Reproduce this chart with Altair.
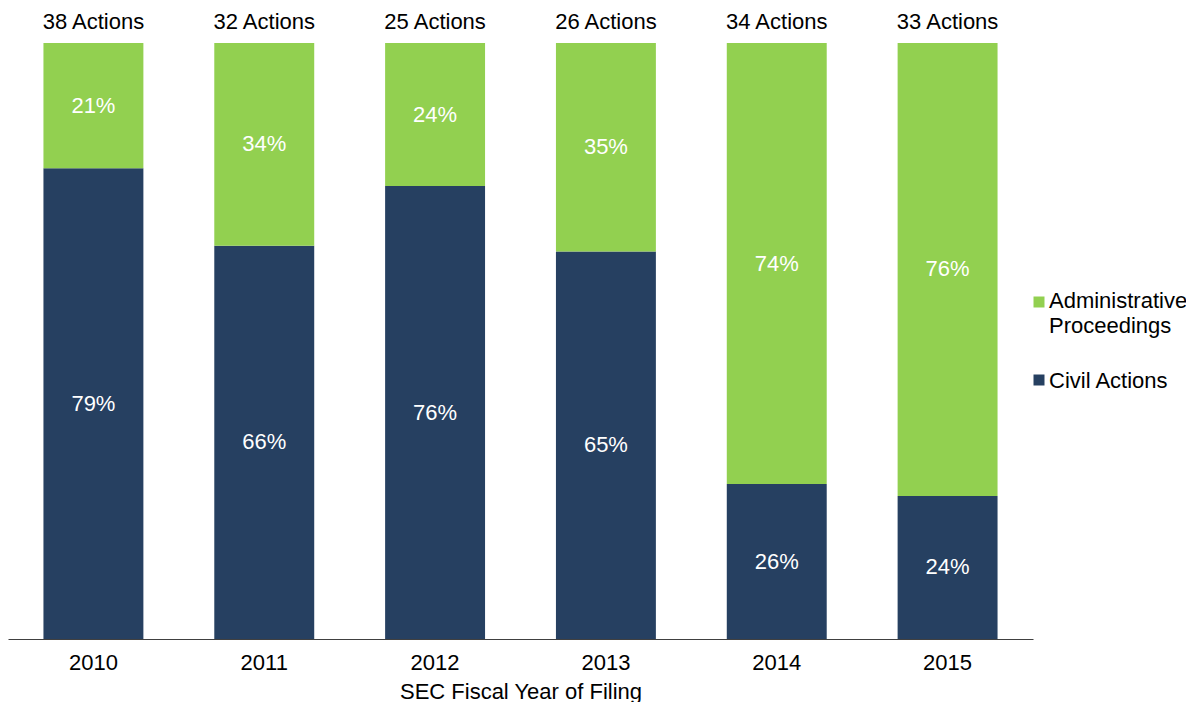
import altair as alt
import pandas as pd

years = ["2010", "2011", "2012", "2013", "2014", "2015"]
total_actions = [38, 32, 25, 26, 34, 33]
civil_pct = [79, 66, 76, 65, 26, 24]
admin_pct = [21, 34, 24, 35, 74, 76]
types = ["Civil Actions", "Administrative Proceedings"]
colors = ["#264061", "#92D050"]

FONT = "Liberation Sans"
FS = 22

rows = []
for i, yr in enumerate(years):
    rows.append({"year": yr, "type": types[0], "pct": civil_pct[i], "order": 0})
    rows.append({"year": yr, "type": types[1], "pct": admin_pct[i], "order": 1})
df = pd.DataFrame(rows)

totals = pd.DataFrame({"year": years, "total": total_actions})
totals["top"] = 100
totals["label"] = totals["total"].astype(str) + " Actions"

xenc = alt.X(
    "year:N",
    title="SEC Fiscal Year of Filing",
    scale=alt.Scale(paddingInner=0.415, paddingOuter=0.2075),
    axis=alt.Axis(labelAngle=0, ticks=False, labelPadding=13, titlePadding=8,
                  domainColor="#404040", domainWidth=1.2),
)
yscale = alt.Scale(domain=[0, 100], nice=False, zero=True)

base = alt.Chart(df).transform_stack(
    stack="pct", groupby=["year"], as_=["y0", "y1"],
    sort=[alt.SortField("order", order="ascending")],
).transform_calculate(
    mid="(datum.y0 + datum.y1) / 2",
    lab="datum.pct + '%'",
)

bars = base.mark_bar().encode(
    x=xenc,
    y=alt.Y("y0:Q", scale=yscale, axis=None),
    y2="y1:Q",
    color=alt.Color("type:N", scale=alt.Scale(domain=types, range=colors), legend=None),
)

pct_text = base.mark_text(color="white", fontSize=FS, font=FONT, baseline="middle").encode(
    x=xenc,
    y=alt.Y("mid:Q", scale=yscale, axis=None),
    text="lab:N",
)

top_text = alt.Chart(totals).mark_text(
    color="black", fontSize=FS, font=FONT, baseline="middle", dy=-21
).encode(
    x=xenc,
    y=alt.Y("top:Q", scale=yscale, axis=None),
    text="label:N",
)

dummy = pd.DataFrame({"k": [0]})
leg_sq1 = alt.Chart(dummy).mark_square(size=121, color=colors[1], opacity=1).encode(
    x=alt.value(1031), y=alt.value(259))
leg_sq2 = alt.Chart(dummy).mark_square(size=121, color=colors[0], opacity=1).encode(
    x=alt.value(1031), y=alt.value(337))
leg_t1 = alt.Chart(dummy).mark_text(
    text=["Administrative", "Proceedings"], align="left", baseline="alphabetic",
    fontSize=FS, font=FONT, color="black", lineHeight=25,
).encode(x=alt.value(1041), y=alt.value(265))
leg_t2 = alt.Chart(dummy).mark_text(
    text="Civil Actions", align="left", baseline="alphabetic",
    fontSize=FS, font=FONT, color="black",
).encode(x=alt.value(1041), y=alt.value(345))

chart = alt.layer(bars, pct_text, top_text, leg_sq1, leg_sq2, leg_t1, leg_t2).properties(
    width=1025,
    height=596,
    autosize=alt.AutoSizeParams(type="none"),
    padding={"left": 0, "top": 35, "right": 153, "bottom": 63},
).configure_view(stroke=None).configure_axis(
    labelFont=FONT, titleFont=FONT, labelFontSize=FS, titleFontSize=FS,
    labelColor="black", titleColor="black", titleFontWeight="normal",
)

chart.save("out.html", embed_options={"renderer": "svg", "actions": False})
